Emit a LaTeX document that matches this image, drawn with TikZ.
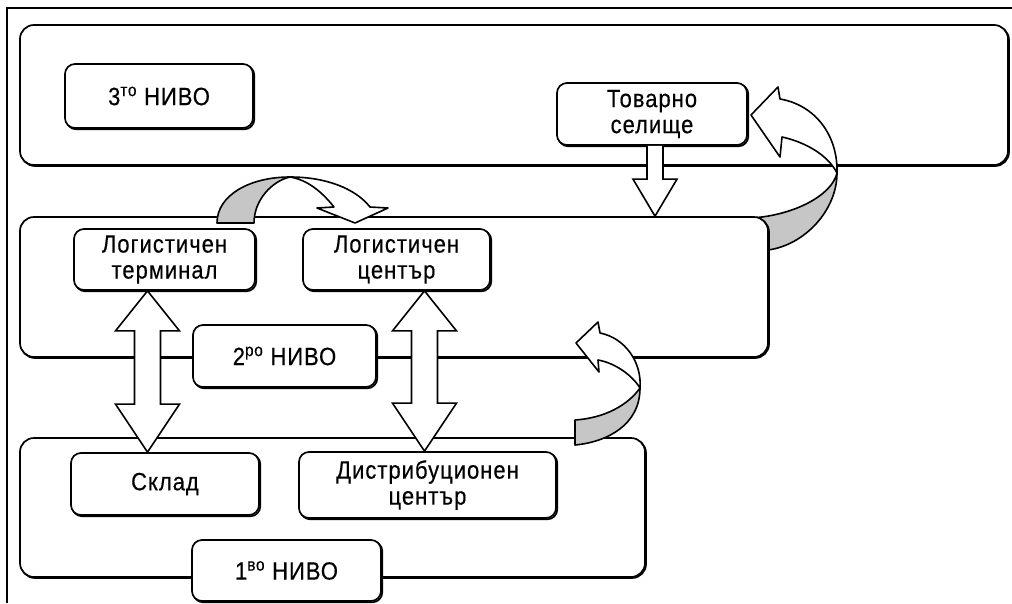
\documentclass[tikz,border=0pt]{standalone}
\usepackage{fontspec}
\setmainfont{Liberation Sans}[LetterSpace=4, FakeStretch=0.88, FakeBold=0.4]
\usetikzlibrary{calc,shadows}
\begin{document}
\begin{tikzpicture}[x=1pt,y=-1pt,
  levelbox/.style={draw, line width=1.7pt, rounded corners=14pt, fill=white, inner sep=0pt,
    copy shadow={shadow xshift=1pt, shadow yshift=-1pt}},
  lbox/.style={draw, line width=1.7pt, rounded corners=10pt, fill=white, align=center,
    font=\fontsize{25}{26}\selectfont, inner sep=0pt,
    copy shadow={shadow xshift=1.3pt, shadow yshift=-1.3pt}},
  fatarrow/.style={draw, line width=1.6pt, fill=white, line join=miter},
  ribbon/.style={draw, line width=1.6pt, fill=gray!45, line join=round},
]
\useasboundingbox (0,0) rectangle (1012,603);
% frame
\coordinate (fr0) at (7,603);
\coordinate (fr1) at (7,8);
\coordinate (fr2) at (1012,8);
\draw[line width=1.8pt] (fr0) -- (fr1) -- (fr2);

% level 3
\node[levelbox, minimum width=988, minimum height=140] (L3) at (514,95) {};
\node[lbox, minimum width=188, minimum height=64] (n3) at (159,96) {3\textsuperscript{то} НИВО};
\node[lbox, minimum width=190, minimum height=62] (tov) at (652,114) {Товарно\\селище};

% big curved arrow (level 2 -> Товарно селище)
\draw[ribbon] (745,250) -- (768,250) .. controls (805,245) and (837,210) .. (837,173)
   .. controls (832,195) and (795,215) .. (752,218) -- (745,218) -- cycle;
\draw[fatarrow, line join=round] (837,173) .. controls (838,135) and (815,105) .. (780,99)
   -- (778,87) -- (751,115) -- (780,157) -- (782,137)
   .. controls (805,142) and (828,155) .. (837,173) -- cycle;

% level 2
\node[levelbox, minimum width=748, minimum height=140] (L2) at (394,287) {};

% down arrow
\coordinate (d1) at ($(tov.south)+(3,0)$);
\coordinate (d2) at (d1 |- L2.north);
\draw[fatarrow] ($(d1)+(-8,0)$) -- ($(d2)+(-8,-37)$) -- ($(d2)+(-22,-37)$) -- (d2)
   -- ($(d2)+(22,-37)$) -- ($(d2)+(8,-37)$) -- ($(d1)+(8,0)$);

% level 1
\node[levelbox, minimum width=625, minimum height=139] (L1) at (332.5,507.5) {};

\node[lbox, minimum width=181, minimum height=61] (term) at (164.5,259.5) {Логистичен\\терминал};
\node[lbox, minimum width=187, minimum height=61] (lc) at (396.5,259.5) {Логистичен\\център};
\node[lbox, minimum width=183, minimum height=62] (n2) at (284.5,356) {2\textsuperscript{ро} НИВО};
\node[lbox, minimum width=188, minimum height=62] (sklad) at (165,484) {Склад};
\node[lbox, minimum width=257, minimum height=66] (dist) at (427.5,485) {Дистрибуционен\\център};
\node[lbox, minimum width=189, minimum height=61] (n1) at (286.5,570.5) {1\textsuperscript{во} НИВО};

% double arrows
\newcommand\fatdouble[2]{%
 \draw[fatarrow] (#1) -- ($(#1)+(32,40)$) -- ($(#1)+(13,40)$) -- ($(#2)+(13,-48)$)
   -- ($(#2)+(32,-48)$) -- (#2) -- ($(#2)+(-32,-48)$) -- ($(#2)+(-13,-48)$)
   -- ($(#1)+(-13,40)$) -- ($(#1)+(-32,40)$) -- cycle;}
\coordinate (lt) at ($(term.south)+(-17,0)$);
\coordinate (lb) at (lt |- sklad.north);
\coordinate (rt) at ($(lc.south)+(28,0)$);
\coordinate (rb) at (rt |- dist.north);
\fatdouble{lt}{lb}
\fatdouble{rt}{rb}

% top curved arrow (терминал -> център)
\draw[ribbon] (217,223) .. controls (217,195) and (250,177) .. (290,177)
   .. controls (272,181) and (254,200) .. (254,223) -- cycle;
\draw[fatarrow, line join=round] (290,177) .. controls (325,177) and (355,188) .. (370,207)
   -- (388,208) -- (355,223) -- (317,208) -- (334,207)
   .. controls (322,192) and (308,180) .. (290,177) -- cycle;

% lower curved arrow (level 1 -> level 2)
\draw[ribbon] (575,420) -- (575,445) .. controls (607,442) and (640,425) .. (640,388)
   .. controls (628,405) and (605,418) .. (575,420) -- cycle;
\draw[fatarrow, line join=round] (640,388) .. controls (642,362) and (625,338) .. (600,333)
   -- (598,322) -- (576,343) -- (599,372) -- (598,360)
   .. controls (615,363) and (632,375) .. (640,388) -- cycle;
\end{tikzpicture}
\end{document}
